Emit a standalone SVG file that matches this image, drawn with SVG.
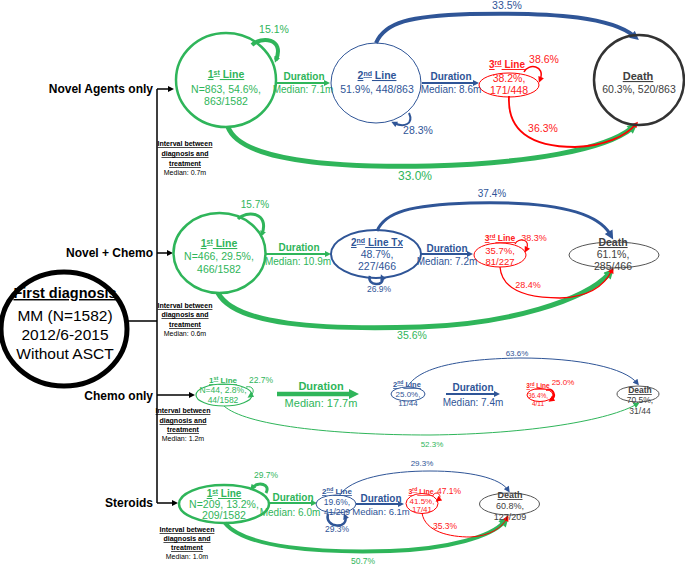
<svg xmlns="http://www.w3.org/2000/svg" width="685" height="567" viewBox="0 0 685 567">
<style>
text{font-family:"Liberation Sans",Arial,sans-serif;text-anchor:middle}
.g{fill:#2fb55a}.b{fill:#2f5597}.r{fill:#ff2020}.k{fill:#404040}
.bd{font-weight:bold}.u{text-decoration:underline}
.lab{font-weight:bold;font-size:12px;text-anchor:end;fill:#000}
.iv{font-size:7px;font-weight:bold;text-decoration:underline;fill:#000}
.ivm{font-size:7px;fill:#000}
.sg{stroke:#2fb55a;fill:none}.sb{stroke:#2f5597;fill:none}.sr{stroke:#ff0000;fill:none}.sk{stroke:#000;fill:none}
.nd{fill:none}
</style>
<defs>
<marker id="aG" viewBox="0 0 10 10" refX="3" refY="5" markerWidth="11" markerHeight="10" markerUnits="userSpaceOnUse" orient="auto"><path d="M0,0 L10,5 L0,10 z" fill="#2fb55a"/></marker>
<marker id="ag" viewBox="0 0 10 10" refX="5" refY="5" markerWidth="7" markerHeight="6" markerUnits="userSpaceOnUse" orient="auto"><path d="M0,0 L10,5 L0,10 z" fill="#2fb55a"/></marker>
<marker id="aB" viewBox="0 0 10 10" refX="3" refY="5" markerWidth="10" markerHeight="9" markerUnits="userSpaceOnUse" orient="auto"><path d="M0,0 L10,5 L0,10 z" fill="#2f5597"/></marker>
<marker id="ab" viewBox="0 0 10 10" refX="5" refY="5" markerWidth="7" markerHeight="6" markerUnits="userSpaceOnUse" orient="auto"><path d="M0,0 L10,5 L0,10 z" fill="#2f5597"/></marker>
<marker id="ar" viewBox="0 0 10 10" refX="5" refY="5" markerWidth="7" markerHeight="6" markerUnits="userSpaceOnUse" orient="auto"><path d="M0,0 L10,5 L0,10 z" fill="#ff0000"/></marker>
<marker id="ak" viewBox="0 0 10 10" refX="5" refY="5" markerWidth="7" markerHeight="6" markerUnits="userSpaceOnUse" orient="auto"><path d="M0,0 L10,5 L0,10 z" fill="#000"/></marker>
</defs>

<g id="connectors">
  <path class="sk" stroke-width="1.5" d="M128,321 H157 M157,89 V503"/>
  <path class="sk" stroke-width="1.5" d="M157,89 H171" marker-end="url(#ak)"/>
  <path class="sk" stroke-width="1.5" d="M157,253 H170" marker-end="url(#ak)"/>
  <path class="sk" stroke-width="1.5" d="M157,395 H192" marker-end="url(#ak)"/>
  <path class="sk" stroke-width="1.5" d="M157,503 H175" marker-end="url(#ak)"/>

  <!-- Row 1 -->
  <path class="sg" stroke-width="4" d="M252,45 C261,36 285,38 276,60" marker-end="url(#ag)"/>
  <path class="sg" stroke-width="2" d="M276,83 H327" marker-end="url(#ag)"/>
  <path class="sb" stroke-width="2" d="M409,113 C414,124 404,128 394,123" marker-end="url(#ab)"/>
  <path class="sb" stroke-width="2" d="M422,83 H476" marker-end="url(#ab)"/>
  <path class="sb" stroke-width="4" d="M376,43 C385,22 410,16 470,14 C560,12 612,18 634,36" marker-end="url(#aB)"/>
  <path class="sr" stroke-width="1.5" d="M524,72 C528,63 546,65 540,80" marker-end="url(#ar)"/>
  <path class="sg" stroke-width="5" d="M228,127 C240,160 330,168 430,166 C530,163 605,150 632,128" marker-end="url(#aG)"/>
  <path class="sr" stroke-width="1.8" d="M509,96 C507,130 530,147 575,147 C605,146 626,136 636,124" marker-end="url(#ar)"/>

  <!-- Row 2 -->
  <path class="sg" stroke-width="3" d="M238,219 C246,210 270,212 262,234" marker-end="url(#ag)"/>
  <path class="sg" stroke-width="2" d="M265,254 H328" marker-end="url(#ag)"/>
  <path class="sb" stroke-width="2.5" d="M370,276 C366,286 386,287 382,277" marker-end="url(#ab)"/>
  <path class="sb" stroke-width="2" d="M421,254 H470" marker-end="url(#ab)"/>
  <path class="sb" stroke-width="3" d="M377,231 C385,212 410,205 470,203 C545,201 596,210 610,234" marker-end="url(#aB)"/>
  <path class="sr" stroke-width="1.2" d="M515,244 C518,237 532,239 526,250" marker-end="url(#ar)"/>
  <path class="sg" stroke-width="5" d="M218,293 C235,325 320,330 420,327 C510,324 585,300 609,274" marker-end="url(#aG)"/>
  <path class="sr" stroke-width="1.3" d="M500,267 C502,292 530,298 560,298 C590,297 605,285 612,270" marker-end="url(#ar)"/>

  <!-- Row 3 -->
  <path class="sg" stroke-width="1" d="M246,387 C253,385 256,392 250,396" marker-end="url(#ag)"/>
  <path class="sg" stroke-width="4.5" d="M277,394 H352" marker-end="url(#aG)"/>
  <path class="sb" stroke-width="2" d="M446,394 H497" marker-end="url(#ab)"/>
  <path class="sb" stroke-width="1" d="M408,386 C418,370 450,359 520,358 C580,358 625,368 637,383" marker-end="url(#ab)"/>
  <path class="sr" stroke-width="2" d="M546,390 C553,387 557,396 551,400" marker-end="url(#ar)"/>
  <path class="sg" stroke-width="1" d="M224,406 C245,425 330,435 430,435 C530,434 610,420 637,404" marker-end="url(#ag)"/>

  <!-- Row 4 -->
  <path class="sg" stroke-width="3" d="M266,493 C271,484 258,481 252,488" marker-end="url(#ag)"/>
  <path class="sg" stroke-width="2" d="M269,503 H314" marker-end="url(#ag)"/>
  <path class="sb" stroke-width="2.5" d="M328,514 C324,529 350,529 345,516" marker-end="url(#ab)"/>
  <path class="sb" stroke-width="2" d="M356,504 H401" marker-end="url(#ab)"/>
  <path class="sb" stroke-width="1" d="M339,496 C350,478 390,471 430,471 C470,471 500,478 508,490" marker-end="url(#ab)"/>
  <path class="sr" stroke-width="1" d="M433,495 C437,490 443,496 438,500" marker-end="url(#ar)"/>
  <path class="sg" stroke-width="4" d="M225,523 C245,548 320,553 390,551 C450,549 492,536 504,522" marker-end="url(#aG)"/>
  <path class="sr" stroke-width="1" d="M422,513 C425,532 450,537 470,537 C490,536 502,528 507,518" marker-end="url(#ar)"/>
</g>

<g id="first-diagnosis">
  <ellipse cx="64" cy="329" rx="63" ry="57" fill="none" stroke="#000" stroke-width="5"/>
  <text x="65" y="298" font-size="14.5" font-weight="bold" class="u">First diagnosis</text>
  <text x="65" y="321" font-size="15.5">MM (N=1582)</text>
  <text x="65" y="340" font-size="15.5">2012/6-2015</text>
  <text x="65" y="359" font-size="15.5">Without ASCT</text>
</g>

<g id="labels">
  <text class="lab" x="153" y="93">Novel Agents only</text>
  <text class="lab" x="153" y="257">Novel + Chemo</text>
  <text class="lab" x="153" y="400">Chemo only</text>
  <text class="lab" x="153" y="507">Steroids</text>
  <text class="iv" x="185" y="146">Interval between</text>
  <text class="iv" x="185" y="156">diagnosis and</text>
  <text class="iv" x="185" y="166">treatment</text>
  <text class="ivm" x="185" y="175">Median: 0.7m</text>
  <text class="iv" x="185" y="308">Interval between</text>
  <text class="iv" x="185" y="317">diagnosis and</text>
  <text class="iv" x="185" y="327">treatment</text>
  <text class="ivm" x="185" y="336">Median: 0.6m</text>
  <text class="iv" x="183" y="413">Interval between</text>
  <text class="iv" x="183" y="423">diagnosis and</text>
  <text class="iv" x="183" y="432">treatment</text>
  <text class="ivm" x="183" y="441">Median: 1.2m</text>
  <text class="iv" x="187" y="532">Interval between</text>
  <text class="iv" x="187" y="541">diagnosis and</text>
  <text class="iv" x="187" y="550">treatment</text>
  <text class="ivm" x="187" y="559">Median: 1.0m</text>
</g>

<!-- Row 1: Novel Agents only -->
<g id="r1-first">
  <ellipse cx="226" cy="80" rx="50" ry="47" class="nd" stroke="#2fb55a" stroke-width="2.5"/>
  <text class="g bd u" x="226" y="78" font-size="10.5">1<tspan baseline-shift="super" font-size="7">st</tspan> Line</text>
  <text class="g" x="226" y="93" font-size="10.5">N=863, 54.6%,</text>
  <text class="g" x="226" y="105" font-size="10.5">863/1582</text>
  <text class="g" x="274" y="33" font-size="10.5">15.1%</text>
  <text class="g bd" x="304" y="80" font-size="10">Duration</text>
  <text class="g" x="303" y="93" font-size="10">Median: 7.1m</text>
</g>
<g id="r1-second">
  <ellipse cx="376" cy="83" rx="45" ry="40" class="nd" stroke="#2f5597" stroke-width="1"/>
  <text class="b bd u" x="377" y="79" font-size="10.5">2<tspan baseline-shift="super" font-size="7">nd</tspan> Line</text>
  <text class="b" x="377" y="93" font-size="10.5">51.9%, 448/863</text>
  <text class="b" x="418" y="134" font-size="10.5">28.3%</text>
  <text class="b bd" x="451" y="80" font-size="10">Duration</text>
  <text class="b" x="451" y="93" font-size="10">Median: 8.6m</text>
  <text class="b" x="507" y="9" font-size="10.5">33.5%</text>
</g>
<g id="r1-third">
  <ellipse cx="509" cy="85" rx="30" ry="12" class="nd" stroke="#ff0000" stroke-width="1"/>
  <text class="r bd u" x="507" y="68" font-size="10">3<tspan baseline-shift="super" font-size="7">rd</tspan> Line</text>
  <text class="r" x="509" y="82" font-size="10.5">38.2%,</text>
  <text class="r" x="509" y="94" font-size="10.5">171/448</text>
  <text class="r" x="544" y="63" font-size="10.5">38.6%</text>
  <text class="r" x="543" y="132" font-size="10.5">36.3%</text>
</g>
<g id="r1-death">
  <ellipse cx="639" cy="80" rx="45" ry="45" class="nd" stroke="#333" stroke-width="2.5"/>
  <text class="k bd u" x="638" y="80" font-size="11">Death</text>
  <text class="k" x="639" y="93" font-size="10.5">60.3%, 520/863</text>
  <text class="g" x="415" y="180" font-size="12">33.0%</text>
</g>

<!-- Row 2: Novel + Chemo -->
<g id="r2-first">
  <ellipse cx="219.5" cy="253" rx="46" ry="40" class="nd" stroke="#2fb55a" stroke-width="2.5"/>
  <text class="g bd u" x="219" y="247" font-size="10.5">1<tspan baseline-shift="super" font-size="7">st</tspan> Line</text>
  <text class="g" x="219" y="260" font-size="10.5">N=466, 29.5%,</text>
  <text class="g" x="219" y="273" font-size="10.5">466/1582</text>
  <text class="g" x="255" y="208" font-size="10">15.7%</text>
  <text class="g bd" x="299" y="251" font-size="10">Duration</text>
  <text class="g" x="298" y="265" font-size="10">Median: 10.9m</text>
</g>
<g id="r2-second">
  <ellipse cx="376" cy="254" rx="45" ry="24" class="nd" stroke="#2f5597" stroke-width="2"/>
  <text class="b bd u" x="377" y="246" font-size="10">2<tspan baseline-shift="super" font-size="7">nd</tspan> Line Tx</text>
  <text class="b" x="377" y="258" font-size="10.5">48.7%,</text>
  <text class="b" x="377" y="270" font-size="10.5">227/466</text>
  <text class="b" x="379" y="292" font-size="8.5">26.9%</text>
  <text class="b bd" x="447" y="252" font-size="10">Duration</text>
  <text class="b" x="447" y="265" font-size="10">Median: 7.2m</text>
  <text class="b" x="492" y="197" font-size="10">37.4%</text>
</g>
<g id="r2-third">
  <ellipse cx="500" cy="255" rx="26" ry="12" class="nd" stroke="#ff0000" stroke-width="1"/>
  <text class="r bd u" x="500" y="241" font-size="8.5">3<tspan baseline-shift="super" font-size="6">rd</tspan> Line</text>
  <text class="r" x="500" y="254" font-size="9.5">35.7%,</text>
  <text class="r" x="500" y="265" font-size="9.5">81/227</text>
  <text class="r" x="534" y="241" font-size="9">38.3%</text>
  <text class="r" x="528" y="288" font-size="9">28.4%</text>
</g>
<g id="r2-death">
  <ellipse cx="614" cy="255" rx="45" ry="13" class="nd" stroke="#555" stroke-width="1"/>
  <text class="k bd u" x="613" y="246" font-size="10.5">Death</text>
  <text class="k" x="613" y="258" font-size="10.5">61.1%,</text>
  <text class="k" x="613" y="270" font-size="10.5">285/466</text>
  <text class="g" x="412" y="339" font-size="10.5">35.6%</text>
</g>

<!-- Row 3: Chemo only -->
<g id="r3-first">
  <ellipse cx="224" cy="395" rx="28" ry="11" class="nd" stroke="#2fb55a" stroke-width="1.2"/>
  <text class="g bd u" x="223" y="383" font-size="8">1<tspan baseline-shift="super" font-size="5.5">st</tspan> Line</text>
  <text class="g" x="223" y="393" font-size="8.5">N=44, 2.8%,</text>
  <text class="g" x="223" y="403" font-size="8.5">44/1582</text>
  <text class="g" x="261" y="383" font-size="8.5">22.7%</text>
  <text class="g bd" x="321" y="390" font-size="11">Duration</text>
  <text class="g" x="321" y="407" font-size="11">Median: 17.7m</text>
</g>
<g id="r3-second">
  <ellipse cx="408" cy="394" rx="17" ry="7" class="nd" stroke="#2f5597" stroke-width="1"/>
  <text class="b bd u" x="407" y="387" font-size="7.5">2<tspan baseline-shift="super" font-size="5">nd</tspan> Line</text>
  <text class="b" x="408" y="397" font-size="8">25.0%,</text>
  <text class="b" x="408" y="406" font-size="8">11/44</text>
  <text class="b bd" x="473" y="391" font-size="10">Duration</text>
  <text class="b" x="473" y="406" font-size="10">Median: 7.4m</text>
  <text class="b" x="517" y="356" font-size="8">63.6%</text>
</g>
<g id="r3-third">
  <ellipse cx="540" cy="395" rx="13" ry="6.5" class="nd" stroke="#ff0000" stroke-width="1"/>
  <text class="r bd u" x="538" y="388" font-size="6.5">3<tspan baseline-shift="super" font-size="4.5">rd</tspan> Line</text>
  <text class="r" x="538" y="398" font-size="6.5">36.4%,</text>
  <text class="r" x="538" y="406" font-size="6.5">4/11</text>
  <text class="r" x="563" y="385" font-size="8">25.0%</text>
</g>
<g id="r3-death">
  <ellipse cx="638" cy="394" rx="21" ry="8" class="nd" stroke="#555" stroke-width="1"/>
  <text class="k bd u" x="640" y="393" font-size="8.5">Death</text>
  <text class="k" x="640" y="403" font-size="8.5">70.5%,</text>
  <text class="k" x="640" y="414" font-size="8.5">31/44</text>
  <text class="g" x="432" y="447" font-size="8">52.3%</text>
</g>

<!-- Row 4: Steroids -->
<g id="r4-first">
  <ellipse cx="224" cy="504" rx="45" ry="19" class="nd" stroke="#2fb55a" stroke-width="2.5"/>
  <text class="g bd u" x="224" y="497" font-size="10">1<tspan baseline-shift="super" font-size="6.5">st</tspan> Line</text>
  <text class="g" x="224" y="508" font-size="10.5">N=209, 13.2%,</text>
  <text class="g" x="224" y="519" font-size="10.5">209/1582</text>
  <text class="g" x="266" y="478" font-size="8.5">29.7%</text>
  <text class="g bd" x="293" y="501" font-size="10">Duration</text>
  <text class="g" x="290" y="516" font-size="10">Median: 6.0m</text>
</g>
<g id="r4-second">
  <ellipse cx="336" cy="504" rx="20" ry="9" class="nd" stroke="#2f5597" stroke-width="1"/>
  <text class="b bd u" x="337" y="494" font-size="8">2<tspan baseline-shift="super" font-size="5.5">nd</tspan> Line</text>
  <text class="b" x="337" y="505" font-size="8.5">19.6%,</text>
  <text class="b" x="337" y="515" font-size="8.5">41/209</text>
  <text class="b" x="337" y="532" font-size="8.5">29.3%</text>
  <text class="b bd" x="381" y="502" font-size="10">Duration</text>
  <text class="b" x="381" y="515" font-size="9.5">Median: 6.1m</text>
  <text class="b" x="422" y="466" font-size="8">29.3%</text>
</g>
<g id="r4-third">
  <ellipse cx="422" cy="503.5" rx="16" ry="10" class="nd" stroke="#ff0000" stroke-width="1"/>
  <text class="r bd u" x="421" y="494" font-size="7">3<tspan baseline-shift="super" font-size="5">rd</tspan> Line</text>
  <text class="r" x="422" y="504" font-size="8">41.5%,</text>
  <text class="r" x="422" y="512" font-size="8">17/41</text>
  <text class="r" x="449" y="494" font-size="8.5">47.1%</text>
  <text class="r" x="445" y="529" font-size="8.5">35.3%</text>
</g>
<g id="r4-death">
  <ellipse cx="509.5" cy="504" rx="30" ry="11" class="nd" stroke="#555" stroke-width="1"/>
  <text class="k bd u" x="510" y="498" font-size="9">Death</text>
  <text class="k" x="510" y="509" font-size="9">60.8%,</text>
  <text class="k" x="510" y="520" font-size="9">127/209</text>
  <text class="g" x="363" y="564" font-size="8.5">50.7%</text>
</g>
</svg>
